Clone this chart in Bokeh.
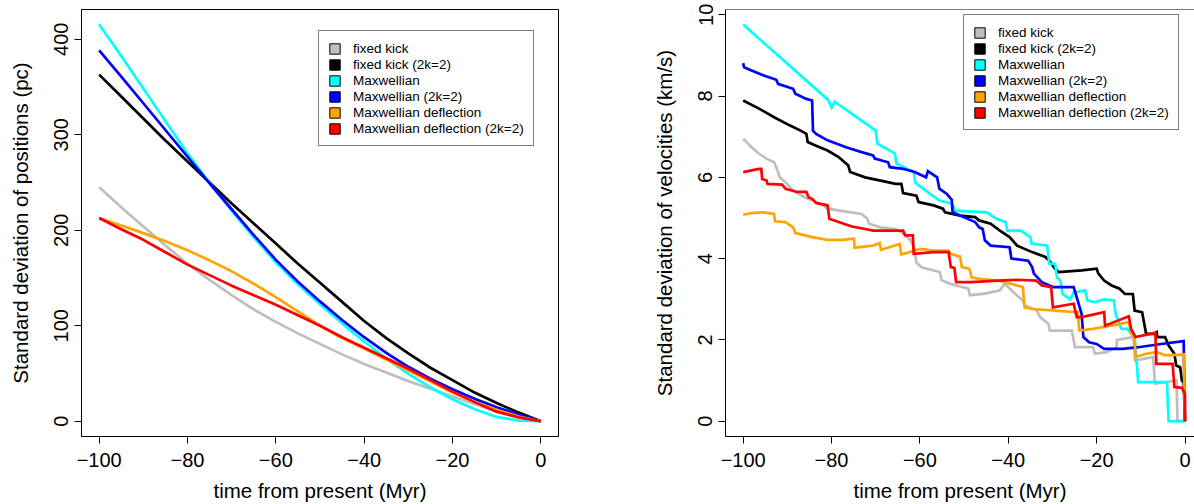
from bokeh.plotting import figure
from bokeh.layouts import row
from bokeh.models import FixedTicker, Legend, LegendItem, Span, Range1d, ColumnDataSource
from bokeh.embed import file_html
from bokeh.resources import INLINE

FONT = "Liberation Sans"
NAN = float("nan")

labels = ["fixed kick", "fixed kick (2k=2)", "Maxwellian", "Maxwellian (2k=2)",
          "Maxwellian deflection", "Maxwellian deflection (2k=2)"]
colors = ["#BEBEBE", "#000000", "#00FFFF", "#0000FF", "#FFA500", "#FF0000"]

x_ticks = [-100, -80, -60, -40, -20, 0]
x_tick_labels = ["\u2212100", "\u221280", "\u221260", "\u221240", "\u221220", "0"]
pos_ticks = [0, 100, 200, 300, 400]
vel_ticks = [0, 2, 4, 6, 8, 10]

# ---- left panel: standard deviation of positions (pc) ----
pos_time = [-100, -95, -90, -85, -80, -75, -70, -65, -60, -55, -50,
            -45, -40, -35, -30, -25, -20, -15, -10, -5, 0]
pos_fixed = [245, 224, 204, 184, 165, 148, 132, 117, 104, 92, 81,
             70, 60, 51, 42, 34, 26, 18, 10, 4, 0]
pos_fixed2 = [363, 340, 317, 294, 272, 250, 228, 207, 186, 165, 145,
              125, 105, 87, 71, 56, 43, 30, 19, 9, 0]
pos_maxw = [415.5, 382.5, 348.5, 314.5, 280.5, 249.5, 220.5, 192.5, 166.5, 143.5, 122.5,
            102.5, 83.5, 65.5, 49.5, 35.5, 23, 12.5, 4.5, 0.7, 0]
pos_maxw2 = [388.5, 361, 333, 305, 277, 249, 222, 195, 169, 146, 125.5,
             106, 88, 71.5, 57, 44.5, 33.5, 23.5, 14.5, 7, 0]
pos_defl = [212.8, 205, 197, 188.5, 179, 168.5, 157, 144, 130, 115, 100,
            87, 76, 64.5, 53, 41.5, 30, 20.5, 12, 5, 0]
pos_defl2 = [212.8, 201, 190, 177, 164, 153, 142, 132, 122, 111, 100,
             88, 77, 66, 55, 43, 31, 20, 10, 4, 0]

# ---- right panel: standard deviation of velocities (km/s), (time, value) ----
vel_fixed = [(-100, 6.95), (-98.1, 6.74), (-96.4, 6.58), (-94.7, 6.46), (-93, 6.37),
             (-92.5, 6.25), (-91.7, 6.0), (-90.4, 5.88), (-88.7, 5.68), (-86.1, 5.51),
             (-83.5, 5.39), (-81.8, 5.31), (-80.9, 5.23), (-77.5, 5.17), (-73.2, 5.10),
             (-71.9, 4.98), (-71.5, 4.86), (-68.9, 4.77), (-65.5, 4.73), (-63.8, 4.61),
             (-62.1, 4.45), (-61.2, 4.24), (-60.8, 3.90), (-59.5, 3.78), (-55.5, 3.67),
             (-55.1, 3.47), (-53.2, 3.38), (-49.0, 3.26), (-48.7, 3.10), (-45.3, 3.14),
             (-41.9, 3.22), (-40.8, 3.38), (-38.5, 3.14), (-36.7, 2.97), (-36.3, 2.85),
             (-33.6, 2.73), (-32.8, 2.56), (-30.9, 2.40), (-30.6, 2.23), (-25.6, 2.23),
             (-24.9, 1.82), (-20.8, 1.82), (-20.4, 1.66), (-17.7, 1.70), (-15.5, 1.82),
             (-15.4, 2.0), (-11.7, 2.07), (-11.3, 1.49), (-7.2, 1.58), (-6.8, 0.92),
             (-1.9, 1.0), (-1.7, 0.0), (0, 0.0)]
vel_fixed2 = [(-100, 7.89), (-96.4, 7.69), (-93, 7.48), (-89.5, 7.28), (-87, 7.15),
              (-85.7, 7.07), (-85.4, 6.87), (-83.5, 6.78), (-80.9, 6.66), (-78.4, 6.50),
              (-76.2, 6.29), (-75.8, 6.13), (-72.4, 6.0), (-68.9, 5.92), (-65.5, 5.84),
              (-64.2, 5.84), (-63.8, 5.61), (-60.8, 5.55), (-60.3, 5.39), (-56.9, 5.31),
              (-54.8, 5.23), (-54.3, 5.14), (-50.9, 5.06), (-47.5, 5.02), (-46.6, 4.94),
              (-44, 4.86), (-41.9, 4.69), (-39.7, 4.53), (-38, 4.32), (-34.6, 4.16),
              (-31.6, 4.04), (-30.7, 3.95), (-29.4, 3.75), (-28.6, 3.67), (-23.4, 3.71),
              (-20, 3.75), (-19.6, 3.63), (-18.3, 3.46), (-16.6, 3.34), (-14.8, 3.26),
              (-13.6, 3.13), (-11.8, 3.13), (-11.4, 2.72), (-9.7, 2.68), (-8.8, 2.15),
              (-7.1, 2.15), (-6.4, 2.19), (-6.3, 2.07), (-4.5, 2.07), (-3.7, 1.86),
              (-2.4, 1.66), (-2.0, 1.37), (-1.1, 1.33), (-0.7, 1.0), (-0.3, 0.96),
              (0, 0.0)]
vel_maxw = [(-100, 9.76), (-80.7, 7.90), (-80.0, 7.72), (-79.3, 7.86), (-70.0, 7.15),
            (-69.6, 6.83), (-65.7, 6.59), (-65.3, 6.34), (-61.4, 6.13), (-61.0, 5.86),
            (-55.6, 5.43), (-52.6, 5.35), (-52.2, 5.18), (-44.9, 5.14), (-42.7, 4.98),
            (-40.6, 4.90), (-40.2, 4.69), (-37.2, 4.69), (-35.0, 4.53), (-34.7, 4.37),
            (-31.2, 4.32), (-30.7, 3.87), (-29.4, 3.87), (-29.0, 3.54), (-28.2, 3.46),
            (-27.7, 3.13), (-26.0, 3.0), (-25.2, 3.17), (-22.6, 3.22), (-22.1, 2.97),
            (-20.4, 2.93), (-18.3, 3.0), (-16.1, 2.97), (-15.7, 2.64), (-14.4, 2.27),
            (-13.1, 2.27), (-11.4, 2.07), (-10.6, 0.96), (-4.1, 0.96), (-3.7, 0.0),
            (0, 0.0)]
vel_maxw2 = [(-100, 8.81), (-99.8, 8.71), (-98.1, 8.63), (-95.5, 8.51), (-92.5, 8.40),
             (-92.1, 8.30), (-88.7, 8.18), (-88.2, 8.06), (-85.7, 7.93), (-84.4, 7.89),
             (-84.2, 7.15), (-83.5, 7.07), (-80.9, 6.91), (-76.7, 6.74), (-73.2, 6.62),
             (-70.6, 6.54), (-70.2, 6.46), (-67.2, 6.37), (-66.8, 6.25), (-63.8, 6.21),
             (-61.2, 6.13), (-58.6, 6.0), (-58.2, 6.15), (-56.1, 6.0), (-55.6, 5.72),
             (-53.9, 5.59), (-52.8, 5.45), (-52.6, 5.14), (-50, 5.02), (-47.5, 4.90),
             (-46.6, 4.77), (-45.8, 4.73), (-45.3, 4.45), (-44, 4.32), (-39.7, 4.28),
             (-39.3, 4.0), (-35.5, 3.95), (-34.6, 3.79), (-34.2, 3.63), (-32.4, 3.42),
             (-31.6, 3.38), (-29.9, 3.30), (-25.2, 3.30), (-24.3, 2.97), (-23.4, 2.64),
             (-23.0, 2.07), (-21.7, 1.94), (-20.0, 1.90), (-18.3, 1.78), (-14.0, 1.78),
             (-10.6, 1.82), (-5.4, 1.90), (-0.3, 1.97), (0, 0.0)]
vel_defl = [(-100, 5.08), (-98.1, 5.12), (-95.5, 5.14), (-93, 5.10), (-92.8, 4.92),
            (-90.4, 4.90), (-88.7, 4.77), (-88.2, 4.63), (-84.4, 4.53), (-80.9, 4.46),
            (-77.5, 4.46), (-74.9, 4.49), (-74.8, 4.27), (-70.6, 4.32), (-69.1, 4.38),
            (-68.8, 4.22), (-64.6, 4.36), (-64.2, 4.10), (-59.9, 4.24), (-56.9, 4.20),
            (-53.6, 4.20), (-53.0, 4.12), (-50.9, 4.05), (-50.5, 3.79), (-48.8, 3.75),
            (-48.3, 3.54), (-46.6, 3.50), (-42.3, 3.46), (-38.0, 3.34), (-36.7, 3.30),
            (-36.3, 2.80), (-34.6, 2.76), (-29.4, 2.72), (-24.3, 2.68), (-23.9, 2.23),
            (-20.9, 2.27), (-16.6, 2.35), (-12.7, 2.44), (-12.2, 2.15), (-11.4, 2.07),
            (-11.2, 1.58), (-8.8, 1.66), (-6.3, 1.70), (-4.5, 1.62), (-0.3, 1.64),
            (0, 0.0)]
vel_defl2 = [(-100, 6.13), (-98.1, 6.17), (-96.4, 6.21), (-95.9, 6.21), (-95.7, 5.96),
             (-94.7, 5.92), (-94.5, 5.84), (-91.2, 5.82), (-90.4, 5.72), (-87.8, 5.64),
             (-85.7, 5.64), (-85.2, 5.51), (-84.4, 5.47), (-83.5, 5.37), (-80.9, 5.31),
             (-80.5, 4.98), (-78.4, 4.90), (-75.4, 4.79), (-72.4, 4.73), (-70.6, 4.69),
             (-63.8, 4.69), (-63.3, 4.57), (-61.6, 4.57), (-61.4, 4.12), (-56.9, 4.16),
             (-53.5, 4.16), (-53.0, 3.79), (-52.2, 3.77), (-51.8, 3.42), (-48.4, 3.42),
             (-42.3, 3.46), (-38.0, 3.48), (-33.7, 3.46), (-32.4, 3.34), (-30.3, 3.30),
             (-29.9, 2.80), (-25.2, 2.89), (-24.5, 2.56), (-23.4, 2.56), (-18.3, 2.68),
             (-18.1, 2.35), (-12.7, 2.58), (-12.2, 2.27), (-11.2, 2.07), (-6.7, 2.17),
             (-6.5, 1.41), (-2.8, 1.41), (-2.4, 0.84), (-0.7, 0.82), (0, 0.67), (0, 0.0)]

pos_series = [pos_fixed, pos_fixed2, pos_maxw, pos_maxw2, pos_defl, pos_defl2]
vel_series = [vel_fixed, vel_fixed2, vel_maxw, vel_maxw2, vel_defl, vel_defl2]

LW = 2.7


def style(p, yticks, ylabel):
    p.grid.visible = False
    p.background_fill_color = "white"
    p.border_fill_color = "white"
    for ax in (p.xaxis[0], p.yaxis[0]):
        ax.axis_line_color = "black"
        ax.axis_line_width = 1
        ax.major_tick_line_color = "black"
        ax.major_tick_in = 0
        ax.major_tick_out = 7
        ax.minor_tick_line_color = None
        ax.major_label_text_font = FONT
        ax.major_label_text_font_size = "20px"
        ax.major_label_text_color = "black"
        ax.axis_label_text_font = FONT
        ax.axis_label_text_font_size = "20.5px"
        ax.axis_label_text_font_style = "normal"
        ax.axis_label_text_color = "black"
    p.xaxis.ticker = FixedTicker(ticks=x_ticks)
    p.xaxis.major_label_overrides = {t: l for t, l in zip(x_ticks, x_tick_labels)}
    p.xaxis.major_label_standoff = 9
    p.xaxis.axis_label = "time from present (Myr)"
    p.xaxis.axis_label_standoff = 9
    p.yaxis.ticker = FixedTicker(ticks=yticks)
    p.yaxis.major_label_orientation = "vertical"
    p.yaxis.major_label_standoff = 6
    p.yaxis.axis_label = ylabel
    p.yaxis.axis_label_standoff = 20


def add_legend(p, loc):
    items = []
    for lab, c in zip(labels, colors):
        src = ColumnDataSource(data=dict(l=[NAN], r=[NAN], t=[NAN], b=[NAN]))
        r = p.quad(left="l", right="r", top="t", bottom="b", source=src,
                   fill_color=c, line_color="black", line_width=1)
        items.append(LegendItem(label=lab, renderers=[r]))
    lg = Legend(items=items, location=loc)
    lg.label_text_font = FONT
    lg.label_text_font_size = "13.5px"
    lg.label_text_color = "black"
    lg.label_height = 16
    lg.label_standoff = 12
    lg.glyph_width = 13
    lg.glyph_height = 13
    lg.spacing = 0
    lg.padding = 9
    lg.margin = 0
    lg.border_line_color = "black"
    lg.border_line_width = 1
    lg.background_fill_color = "white"
    lg.background_fill_alpha = 1
    p.add_layout(lg, "center")


# ---- left figure ----
p1 = figure(width=600, height=504, x_range=Range1d(-104, 4), y_range=Range1d(-16, 431.2),
            output_backend="svg", toolbar_location=None,
            min_border_left=81, min_border_right=42, min_border_top=9, min_border_bottom=68)
p1.outline_line_color = "black"
p1.outline_line_width = 1
style(p1, pos_ticks, "Standard deviation of positions (pc)")
for ys, c in zip(pos_series, colors):
    p1.line(pos_time, ys, line_color=c, line_width=LW, line_join="round")
add_legend(p1, (237, 290))

# ---- right figure ----
p2 = figure(width=594, height=504, x_range=Range1d(-104, 2.15), y_range=Range1d(-0.377, 10.13),
            output_backend="svg", toolbar_location=None,
            min_border_left=125, min_border_right=0, min_border_top=9, min_border_bottom=68)
p2.outline_line_color = None
style(p2, vel_ticks, "Standard deviation of velocities (km/s)")
p2.add_layout(Span(location=10.13, dimension="width", line_color="black", line_width=1))
for pts, c in zip(vel_series, colors):
    xs = [a for a, b in pts]
    ys = [b for a, b in pts]
    p2.line(xs, ys, line_color=c, line_width=LW, line_join="miter")
add_legend(p2, (238, 306))

layout = row(p1, p2)
open("out.html", "w").write(file_html(layout, INLINE))
